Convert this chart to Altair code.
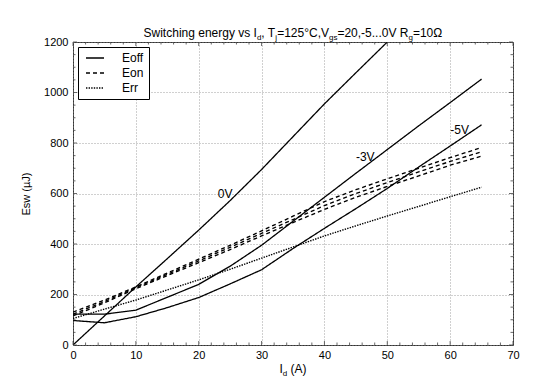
import altair as alt
import pandas as pd

# ---------------- data ----------------
I_d = [0, 5, 10, 15, 20, 25, 30, 35, 40, 45, 50, 55, 60, 65]
I_d_0v = [0, 5, 10, 15, 20, 25, 30, 35, 40, 45, 50]

eoff_0v = [0, 115, 230, 342, 455, 572, 695, 825, 955, 1078, 1200]
eoff_m3v = [122, 122, 138, 189, 240, 312, 395, 490, 585, 680, 774, 868, 960, 1053]
eoff_m5v = [97, 88, 112, 148, 188, 242, 298, 382, 462, 540, 620, 705, 788, 872]

eon_a = [130, 178, 230, 285, 340, 395, 452, 510, 568, 615, 658, 700, 742, 782]
eon_b = [122, 172, 227, 280, 333, 387, 442, 497, 552, 600, 643, 686, 727, 765]
eon_c = [115, 167, 223, 275, 326, 378, 432, 485, 537, 585, 628, 670, 712, 748]

err = [105, 142, 178, 218, 258, 300, 344, 388, 432, 472, 511, 549, 587, 625]

types = ["Eoff", "Eon", "Err"]

ann_text = ["0V", "-3V", "-5V"]
ann_x = [24.2, 46.5, 61.5]
ann_y = [600, 746, 853]

x_ticks_all = list(range(0, 71, 2))
y_ticks_all = list(range(0, 1201, 50))
x_major = list(range(0, 71, 10))
y_major = list(range(0, 1201, 200))

title_segs = [("Switching energy vs I", False), ("d", True), (", T", False), ("j", True),
              ("=125°C,V", False), ("gs", True), ("=20,-5...0V R", False), ("g", True),
              ("=10Ω", False)]
xtitle_segs = [("I", False), ("d", True), (" (A)", False)]
ytitle = "Esw (µJ)"

# ---------------- build tables ----------------
rows = []
def add(name, typ, xs, ys):
    for x, y in zip(xs, ys):
        rows.append({"series": name, "type": typ, "I": x, "E": y})

add("Eoff 0V", "Eoff", I_d_0v, eoff_0v)
add("Eoff -3V", "Eoff", I_d, eoff_m3v)
add("Eoff -5V", "Eoff", I_d, eoff_m5v)
add("Eon a", "Eon", I_d, eon_a)
add("Eon b", "Eon", I_d, eon_b)
add("Eon c", "Eon", I_d, eon_c)
add("Err", "Err", I_d, err)
df = pd.DataFrame(rows)

W, H = 440, 303
FONT = "Liberation Sans"
xscale = alt.Scale(domain=[0, 70], nice=False)
yscale = alt.Scale(domain=[0, 1200], nice=False)

xaxis = alt.Axis(values=x_major, grid=True, gridDash=[1, 2], gridColor="#888",
                 gridWidth=0.8, ticks=False, domain=False, labelFontSize=11,
                 labelColor="black", labelPadding=4, labelFlush=False, format="d",
                 labelOverlap=False, labelFont=FONT, title=None)
yaxis = alt.Axis(values=y_major, grid=True, gridDash=[1, 2], gridColor="#888",
                 gridWidth=0.8, ticks=False, domain=False, labelFontSize=11,
                 labelColor="black", labelPadding=5, labelFont=FONT, format="d",
                 labelOverlap=False, title=ytitle, titleFont=FONT,
                 titleFontSize=11, titleFontWeight="normal", titleColor="black",
                 titlePadding=12)

def X(f):
    return alt.X(f, scale=xscale, axis=xaxis)

def Y(f):
    return alt.Y(f, scale=yscale, axis=yaxis)

lines = alt.Chart(df).mark_line(color="black", clip=True).encode(
    x=X("I:Q"),
    y=Y("E:Q"),
    strokeDash=alt.StrokeDash("type:N",
                              scale=alt.Scale(domain=types, range=[[1, 0], [4, 3], [1.4, 1.2]]),
                              legend=alt.Legend(title=None, orient="none", legendX=5, legendY=5)),
    strokeWidth=alt.StrokeWidth("type:N",
                                scale=alt.Scale(domain=types, range=[1.3, 1.4, 1.6]),
                                legend=None),
    detail="series:N",
    order="I:Q",
)

ann = alt.Chart(pd.DataFrame({"t": ann_text, "x": ann_x, "y": ann_y})).mark_text(
    font=FONT, fontSize=12, color="black").encode(x=X("x:Q"), y=Y("y:Q"), text="t:N")

# ---------------- ticks (inward) ----------------
xt = pd.DataFrame({"v": x_ticks_all})
xt["major"] = xt["v"] % 10 == 0
yt = pd.DataFrame({"v": y_ticks_all})
yt["major"] = yt["v"] % 200 == 0

TC = "#444"
tick_layers = []
for is_major, L in [(True, 4), (False, 2.5)]:
    sx = xt[xt["major"] == is_major]
    sy = yt[yt["major"] == is_major]
    tick_layers.append(alt.Chart(sx).mark_rule(color=TC, strokeWidth=0.8).encode(
        x=X("v:Q"), y=alt.value(H), y2=alt.value(H - L)))
    tick_layers.append(alt.Chart(sx).mark_rule(color=TC, strokeWidth=0.8).encode(
        x=X("v:Q"), y=alt.value(0), y2=alt.value(L)))
    tick_layers.append(alt.Chart(sy).mark_rule(color=TC, strokeWidth=0.8).encode(
        y=Y("v:Q"), x=alt.value(0), x2=alt.value(L)))
    tick_layers.append(alt.Chart(sy).mark_rule(color=TC, strokeWidth=0.8).encode(
        y=Y("v:Q"), x=alt.value(W), x2=alt.value(W - L)))

# ---------------- rich text (subscripts) ----------------
CW = {"S": 667, "w": 722, "i": 222, "t": 278, "c": 500, "h": 556, "n": 556, "g": 556,
      " ": 278, "e": 556, "r": 333, "y": 500, "v": 500, "s": 500, "I": 278, "d": 556,
      ",": 278, "T": 611, "j": 222, "=": 584, "°": 400, "C": 722, "V": 667, "-": 333,
      ".": 278, "R": 722, "Ω": 768, "(": 333, ")": 333, "A": 667}
def tw(s, fs):
    return sum(CW.get(ch, 556) for ch in s) * fs / 1000.0

def rich(segs, cx, base, fs, sfs, sdy):
    total = sum(tw(t, sfs if sub else fs) for t, sub in segs)
    x = cx - total / 2
    out = []
    for t, sub in segs:
        size = sfs if sub else fs
        lead = len(t) - len(t.lstrip(" "))
        out.append(alt.Chart(pd.DataFrame({"t": [t.strip(" ")]})).mark_text(
            align="left", baseline="alphabetic", font=FONT, fontSize=size, color="black").encode(
            x=alt.value(x + tw(" " * lead, size)), y=alt.value(base + (sdy if sub else 0)), text="t:N"))
        x += tw(t, size)
    return out

title_layers = rich(title_segs, W / 2, -5.3, 12, 8, 3)
xtitle_layers = rich(xtitle_segs, W / 2, 331, 12, 8, 2.5)

chart = alt.layer(lines, ann, *tick_layers, *title_layers, *xtitle_layers).properties(
    width=W, height=H,
    autosize=alt.AutoSizeParams(type="none"),
    padding={"left": 65, "top": 34, "right": 13, "bottom": 31},
).configure_view(stroke="#333", strokeWidth=1).configure_legend(
    strokeColor="black", fillColor="white", padding=5, symbolType="M-2,0L2,0",
    symbolSize=81, symbolStrokeWidth=1.3, symbolStrokeColor="black", symbolOffset=6,
    labelFontSize=12, labelFont=FONT, labelColor="black", labelOffset=21, rowPadding=3,
    cornerRadius=0,
)

chart.save("out.html", embed_options={"renderer": "svg", "actions": False})
